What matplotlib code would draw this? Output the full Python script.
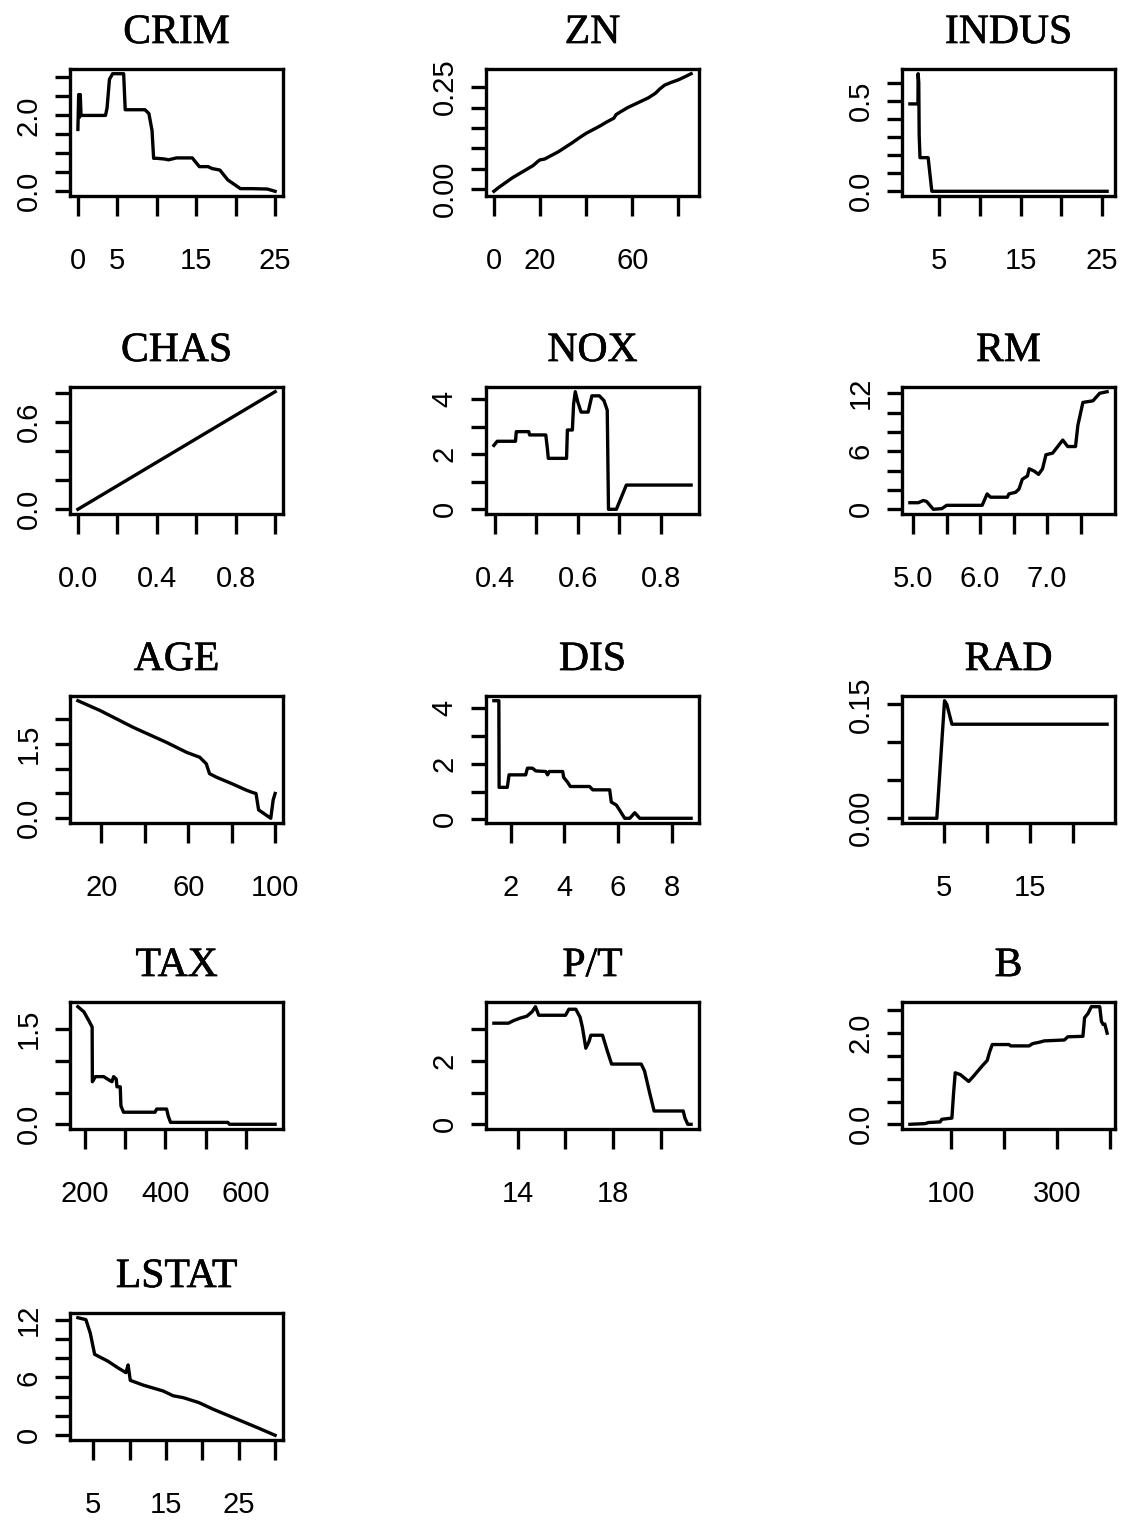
import matplotlib
matplotlib.use("Agg")
import matplotlib.pyplot as plt
import matplotlib.patheffects as pe

# Partial dependence curves
crim_x = [0.0, 0.1, 0.2, 0.3, 0.4, 1.0, 2.0, 3.5, 3.7, 4.0, 4.4, 5.0, 5.8, 6.0, 7.0, 8.5, 9.0, 9.4,
          9.6, 10.0, 11.0, 11.5, 12.5, 14.5, 15.0, 15.4, 16.5, 17.0, 18.0, 19.0, 20.6, 22.0, 24.0, 25.0]
crim_y = [1.63, 2.55, 1.95, 2.55, 2.0, 2.0, 2.0, 2.0, 2.2, 2.95, 3.1, 3.1, 3.1, 2.15, 2.15, 2.15, 2.05, 1.6,
          0.87, 0.87, 0.85, 0.83, 0.88, 0.88, 0.75, 0.65, 0.65, 0.6, 0.56, 0.3, 0.07, 0.07, 0.06, 0.0]

zn_x = [0, 2, 5, 8, 11, 14, 17, 19, 20, 22, 25, 28, 31, 34, 37, 40, 43, 46, 49, 52, 53, 55, 58,
        61, 64, 67, 70, 72, 74, 77, 80, 83, 85.5]
zn_y = [-0.005, 0.004, 0.016, 0.028, 0.038, 0.048, 0.058, 0.068, 0.072, 0.074, 0.083, 0.092, 0.103,
        0.114, 0.126, 0.137, 0.146, 0.155, 0.165, 0.174, 0.183, 0.19, 0.2, 0.208, 0.216, 0.224, 0.235,
        0.246, 0.255, 0.262, 0.268, 0.276, 0.283]

indus_x = [1.41, 2.4, 2.42, 2.5, 2.55, 2.65, 3.0, 3.65, 4.1, 6.0, 10.0, 15.0, 20.0, 25.6]
indus_y = [0.483, 0.483, 0.65, 0.6, 0.31, 0.186, 0.186, 0.186, 0.0, 0.0, 0.0, 0.0, 0.0, 0.0]

chas_x = [0.0, 1.0]
chas_y = [0.0, 0.81]

nox_x = [0.398, 0.406, 0.45, 0.452, 0.482, 0.484, 0.523, 0.527, 0.529, 0.573, 0.575, 0.587, 0.59,
         0.594, 0.6, 0.608, 0.625, 0.634, 0.652, 0.663, 0.671, 0.674, 0.693, 0.717, 0.873]
nox_y = [2.32, 2.47, 2.47, 2.82, 2.82, 2.7, 2.7, 2.18, 1.85, 1.85, 2.88, 2.88, 3.82, 4.27, 3.9,
         3.53, 3.53, 4.12, 4.12, 3.95, 3.6, 0.0, 0.0, 0.88, 0.88]

rm_x = [4.95, 5.075, 5.15, 5.2, 5.3, 5.427, 5.5, 6.03, 6.104, 6.155, 6.406, 6.43, 6.53, 6.58, 6.63,
        6.707, 6.732, 6.807, 6.872, 6.932, 6.983, 7.083, 7.234, 7.309, 7.425, 7.46, 7.535, 7.686,
        7.786, 7.897]
rm_y = [0.68, 0.68, 0.91, 0.81, 0.0, 0.07, 0.41, 0.41, 1.59, 1.25, 1.25, 1.59, 1.76, 2.09, 3.11,
        3.45, 4.19, 3.95, 3.61, 4.19, 5.64, 5.81, 7.16, 6.49, 6.49, 8.68, 11.05, 11.22, 12.0, 12.16]

age_x = [9.2, 19.5, 34.8, 50.0, 59.2, 65.3, 68.3, 69.8, 72.9, 80.5, 86.6, 89.6, 91.2, 92.4, 95.7,
         98.0, 99.1, 100.0]
age_y = [2.37, 2.17, 1.83, 1.53, 1.33, 1.23, 1.10, 0.90, 0.83, 0.69, 0.57, 0.52, 0.50, 0.17, 0.07,
         0.0, 0.37, 0.50]

dis_x = [1.375, 1.56, 1.57, 1.875, 1.94, 2.56, 2.625, 2.81, 2.94, 3.31, 3.375, 3.44, 3.94, 3.975,
         4.125, 4.225, 4.94, 5.06, 5.69, 5.75, 5.94, 6.06, 6.25, 6.44, 6.625, 6.81, 8.725]
dis_y = [4.27, 4.27, 1.15, 1.15, 1.6, 1.6, 1.84, 1.84, 1.74, 1.72, 1.6, 1.72, 1.72, 1.51, 1.33,
         1.18, 1.18, 1.06, 1.06, 0.62, 0.51, 0.33, 0.035, 0.035, 0.235, 0.035, 0.035]

rad_x = [1.0, 4.14, 5.04, 5.31, 5.9, 24.0]
rad_y = [0.0, 0.0, 0.155, 0.150, 0.124, 0.124]

tax_x = [183.6, 198.4, 210.7, 218.9, 219.5, 227.0, 247.5, 259.8, 268.0, 272.1, 278.7, 280.3, 288.5,
         290.2, 296.7, 374.6, 378.7, 403.3, 407.4, 413.1, 554.9, 559.0, 672.1]
tax_y = [1.85, 1.77, 1.63, 1.53, 0.67, 0.75, 0.75, 0.70, 0.67, 0.75, 0.71, 0.59, 0.59, 0.29, 0.19,
         0.19, 0.24, 0.24, 0.13, 0.03, 0.03, 0.0, 0.0]

pt_x = [13.01, 13.62, 13.83, 14.11, 14.39, 14.61, 14.75, 14.89, 16.01, 16.15, 16.44, 16.62, 16.72,
        16.86, 17.0, 17.07, 17.56, 17.77, 17.94, 19.18, 19.32, 19.54, 19.72, 20.94, 21.01, 21.13, 21.27]
pt_y = [3.19, 3.19, 3.27, 3.35, 3.41, 3.55, 3.71, 3.44, 3.44, 3.63, 3.63, 3.38, 3.05, 2.40, 2.62,
        2.81, 2.81, 2.29, 1.90, 1.90, 1.68, 0.97, 0.42, 0.42, 0.20, 0.0, 0.0]

b_x = [22.6, 51.2, 57.5, 79.7, 82.9, 101.9, 105.1, 108.2, 117.8, 133.6, 143.1, 159.0, 168.5, 172.9,
       178.0, 209.7, 212.8, 247.7, 254.1, 266.8, 276.3, 314.3, 320.7, 349.2, 352.4, 358.8, 365.1,
       381.0, 384.1, 387.3, 390.5, 394.9]
b_y = [0.0, 0.015, 0.038, 0.053, 0.11, 0.136, 0.69, 1.13, 1.09, 0.94, 1.06, 1.28, 1.40, 1.58, 1.75,
       1.75, 1.72, 1.72, 1.77, 1.80, 1.83, 1.85, 1.92, 1.93, 2.34, 2.43, 2.58, 2.58, 2.26, 2.19, 2.20, 2.0]

lstat_x = [2.9, 4.0, 4.6, 5.2, 7.0, 8.4, 9.5, 9.8, 10.1, 11.9, 14.6, 16.0, 17.4, 19.5, 21.5, 25.0,
           27.7, 30.0]
lstat_y = [12.2, 12.0, 10.6, 8.4, 7.7, 7.0, 6.5, 7.3, 5.7, 5.2, 4.6, 4.1, 3.9, 3.4, 2.7, 1.6, 0.75, 0.0]

titles = ["CRIM", "ZN", "INDUS", "CHAS", "NOX", "RM", "AGE", "DIS", "RAD", "TAX", "P/T", "B", "LSTAT"]

# tick positions and the labels R kept (dropped ones are blank)
x_ticks = [[0, 5, 10, 15, 20, 25], [0, 20, 40, 60, 80], [5, 10, 15, 20, 25],
           [0.0, 0.2, 0.4, 0.6, 0.8, 1.0], [0.4, 0.5, 0.6, 0.7, 0.8], [5.0, 5.5, 6.0, 6.5, 7.0, 7.5],
           [20, 40, 60, 80, 100], [2, 4, 6, 8], [5, 10, 15, 20],
           [200, 300, 400, 500, 600], [14, 16, 18, 20], [100, 200, 300, 400], [5, 10, 15, 20, 25, 30]]
x_labels = [["0", "5", "", "15", "", "25"], ["0", "20", "", "60", ""], ["5", "", "15", "", "25"],
            ["0.0", "", "0.4", "", "0.8", ""], ["0.4", "", "0.6", "", "0.8"],
            ["5.0", "", "6.0", "", "7.0", ""], ["20", "", "60", "", "100"], ["2", "4", "6", "8"],
            ["5", "", "15", ""], ["200", "", "400", "", "600"], ["14", "", "18", ""],
            ["100", "", "300", ""], ["5", "", "15", "", "25", ""]]
y_ticks = [[0, 0.5, 1.0, 1.5, 2.0, 2.5, 3.0], [0, 0.05, 0.10, 0.15, 0.20, 0.25],
           [0, 0.1, 0.2, 0.3, 0.4, 0.5, 0.6], [0, 0.2, 0.4, 0.6, 0.8], [0, 1, 2, 3, 4],
           [0, 2, 4, 6, 8, 10, 12], [0, 0.5, 1.0, 1.5, 2.0], [0, 1, 2, 3, 4], [0, 0.05, 0.10, 0.15],
           [0, 0.5, 1.0, 1.5], [0, 1, 2, 3], [0, 0.5, 1.0, 1.5, 2.0, 2.5], [0, 2, 4, 6, 8, 10, 12]]
y_labels = [["0.0", "", "", "", "2.0", "", ""], ["0.00", "", "", "", "", "0.25"],
            ["0.0", "", "", "", "", "0.5", ""], ["0.0", "", "", "0.6", ""], ["0", "", "2", "", "4"],
            ["0", "", "", "6", "", "", "12"], ["0.0", "", "", "1.5", ""], ["0", "", "2", "", "4"],
            ["0.00", "", "", "0.15"], ["0.0", "", "", "1.5"], ["0", "", "2", ""],
            ["0.0", "", "", "", "2.0", ""], ["0", "", "", "6", "", "", "12"]]

curves = [(crim_x, crim_y), (zn_x, zn_y), (indus_x, indus_y), (chas_x, chas_y), (nox_x, nox_y),
          (rm_x, rm_y), (age_x, age_y), (dis_x, dis_y), (rad_x, rad_y), (tax_x, tax_y),
          (pt_x, pt_y), (b_x, b_y), (lstat_x, lstat_y)]

W, H = 1124, 1521
fig = plt.figure(figsize=(W / 100, H / 100), dpi=100)

col_left = [70, 486, 902]
row_top = [69, 387, 696, 1002, 1313]
box_w, box_h = 213, 127

# slight thickening of the serif titles, like the reference rendering
title_fx = [pe.withStroke(linewidth=0.45, foreground="black")]

for i, (xs, ys) in enumerate(curves):
    r, c = divmod(i, 3)
    ax = fig.add_axes([col_left[c] / W, 1 - (row_top[r] + box_h) / H, box_w / W, box_h / H])
    ax.plot(xs, ys, color="black", lw=2.4)
    ax.margins(x=0.04, y=0.04)
    for s in ax.spines.values():
        s.set_linewidth(2.4)
    ax.set_xticks(x_ticks[i])
    ax.set_xticklabels(x_labels[i], fontsize=21, family="Liberation Sans")
    ax.set_yticks(y_ticks[i])
    ax.set_yticklabels(y_labels[i], fontsize=21, family="Liberation Sans", rotation=90, va="center")
    ax.tick_params(axis="x", length=14.4, width=2.4, pad=22.5)
    ax.tick_params(axis="y", length=10.8, width=2.4, pad=9)
    t = ax.set_title(titles[i], fontsize=30, family="Liberation Serif", pad=18.7)
    t.set_path_effects(title_fx)

fig.savefig("out.png", dpi=100)
